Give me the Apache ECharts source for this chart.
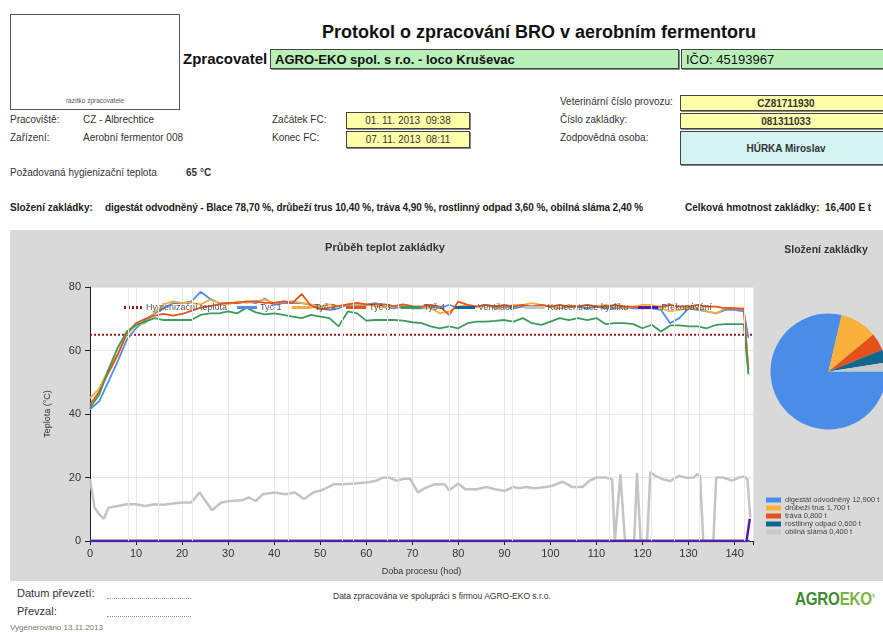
<!DOCTYPE html>
<html>
<head>
<meta charset="utf-8">
<script src="https://cdn.jsdelivr.net/npm/echarts@6/dist/echarts.min.js"></script>
<style>
  body { margin: 0; width: 883px; height: 632px; position: relative; overflow: hidden; background: #fff;
         font-family: "Liberation Sans", Arial, sans-serif; color: #333; }
  .t { position: absolute; white-space: nowrap; line-height: 1; font-size: 10px; }
  .b { font-weight: bold; }
  .box { position: absolute; box-sizing: border-box; border: 1px solid #444; box-shadow: 1px 1px 0 #888;
         display: flex; align-items: center; white-space: nowrap; font-size: 10px; }
  .yel { background: #ffffaa; justify-content: center; }
  .grn { background: #b8f0b8; font-size: 13px; color: #111; padding-left: 4px; }
  .dots { position: absolute; left: 107px; width: 84px; border-bottom: 1px dotted #999; }
  #chart { position: absolute; left: 10px; top: 230px; width: 873px; height: 351px; }
</style>
</head>
<body>
<!-- header -->
<div class="box" style="left:10px;top:14px;width:170px;height:96px;box-shadow:none;border-color:#555;"></div>
<div class="t" style="left:10px;top:98px;width:170px;text-align:center;font-size:6.5px;color:#555;">razítko zpracovatele</div>
<div class="t b" style="left:322px;top:23px;font-size:18px;color:#111;">Protokol o zpracování BRO v aerobním fermentoru</div>
<div class="t b" style="left:183px;top:51px;font-size:15px;color:#111;">Zpracovatel</div>
<div class="box grn b" style="left:270px;top:49px;width:409px;height:20px;">AGRO-EKO spol. s r.o. - loco Kruševac</div>
<div class="box grn" style="left:681px;top:49px;width:215px;height:20px;">IČO: 45193967</div>

<div class="t" style="left:10px;top:115px;">Pracoviště:</div>
<div class="t" style="left:83px;top:115px;">CZ - Albrechtice</div>
<div class="t" style="left:10px;top:133px;">Zařízení:</div>
<div class="t" style="left:83px;top:133px;">Aerobní fermentor 008</div>
<div class="t" style="left:272px;top:115px;">Začátek FC:</div>
<div class="t" style="left:272px;top:133px;">Konec FC:</div>
<div class="box yel" style="left:346px;top:112px;width:124px;height:17px;">01. 11. 2013&nbsp;&nbsp;09:38</div>
<div class="box yel" style="left:346px;top:131px;width:124px;height:17px;">07. 11. 2013&nbsp;&nbsp;08:11</div>

<div class="t" style="left:560px;top:97px;">Veterinární číslo provozu:</div>
<div class="t" style="left:560px;top:115px;">Číslo zakládky:</div>
<div class="t" style="left:560px;top:133px;">Zodpovědná osoba:</div>
<div class="box yel b" style="left:680px;top:95px;width:212px;height:16px;">CZ81711930</div>
<div class="box yel b" style="left:680px;top:113px;width:212px;height:16px;">081311033</div>
<div class="box b" style="left:680px;top:131px;width:212px;height:34px;background:#d4f4f4;justify-content:center;">HÚRKA Miroslav</div>

<div class="t" style="left:10px;top:168px;">Požadovaná hygienizační teplota</div>
<div class="t b" style="left:186px;top:168px;">65 °C</div>

<div class="t b" style="left:10px;top:203px;color:#222;">Složení zakládky:</div>
<div class="t b" style="left:105px;top:203px;color:#222;letter-spacing:-0.1px;">digestát odvodněný - Blace 78,70 %, drůbeží trus 10,40 %, tráva 4,90 %, rostlinný odpad 3,60 %, obilná sláma 2,40 %</div>
<div class="t b" style="left:685px;top:203px;color:#222;">Celková hmotnost zakládky:&nbsp;&nbsp;16,400 E t</div>

<div id="chart"></div>

<!-- footer -->
<div class="t" style="left:17px;top:588px;font-size:11px;">Datum převzetí:</div>
<div class="dots" style="top:598px;"></div>
<div class="t" style="left:17px;top:606px;font-size:11px;">Převzal:</div>
<div class="dots" style="top:616px;"></div>
<div class="t" style="left:10px;top:624px;font-size:8px;color:#777;">Vygenerováno 13.11.2013</div>
<div class="t" style="left:333px;top:592px;font-size:8.5px;">Data zpracována ve spolupráci s firmou AGRO-EKO s.r.o.</div>
<div class="t b" style="left:795px;top:589px;font-size:19px;transform:scaleX(0.8);transform-origin:0 0;letter-spacing:-0.3px;">
  <span style="color:#3f8a30;">AGRO</span><span style="color:#7cb342;">EKO</span><sup style="font-size:5px;color:#7cb342;">®</sup>
</div>

<script>
// time axis of the temperature probes (hours)
const hours = [0, 2, 4, 6, 8, 10, 12, 14, 16, 18, 20, 22, 24, 26, 28, 30, 32, 34, 36, 38, 40, 42, 44, 46, 48,
  50, 52, 54, 56, 58, 60, 62, 64, 66, 68, 70, 72, 74, 76, 78, 80, 82, 84, 86, 88, 90, 92, 94, 96, 98,
  100, 102, 104, 106, 108, 110, 112, 114, 116, 118, 120, 122, 124, 126, 128, 130, 132, 134, 136, 138, 140, 142, 143];

const tyc1 = [41.5, 44, 50.2, 56.5, 63.4, 67, 69.6, 71.7, 73.3, 74.9, 74.9, 75.4, 78.5, 76.4, 74.9, 74.9, 74.9, 75.4,
  74.9, 76.4, 74.4, 74.9, 74.9, 74.9, 74.4, 73.3, 72.8, 73.3, 74.4, 74.4, 74.4, 74.9, 73.8, 73.3, 73.8, 73.3,
  73.3, 73.8, 73.3, 74.4, 73.3, 73.8, 73.8, 74.4, 73.8, 73.8, 73.3, 73.8, 73.8, 74.4, 73.8, 73.3, 73.8, 73.8,
  73.3, 73.8, 73.3, 73.3, 73.8, 73.3, 73.3, 73.3, 72.8, 68.6, 70.2, 73.3, 72.8, 72.3, 71.7, 72.8, 72.8, 72.3, 64];

const tyc2 = [45, 48, 54, 59, 65, 68, 68.6, 72, 74.5, 75.5, 75, 75, 74.5, 76, 75, 74.5, 75.5, 75,
  75.5, 76, 75, 75.5, 75.5, 75, 74.5, 74, 74.5, 74, 74.5, 74.5, 74.5, 74, 73.5, 74, 74, 73.5,
  73.8, 73.3, 71.7, 72.3, 73.8, 74.4, 73.8, 74.4, 73.3, 73.8, 74.4, 74.4, 74.9, 74.4, 73.8, 73.3, 74.4, 73.8,
  74.4, 73.8, 74.4, 73.8, 73.3, 73.8, 74.4, 74.4, 73.3, 72.3, 72.8, 73.3, 73.3, 72.3, 71.7, 73.3, 73.3, 73.3, 54];

const tyc3 = [43, 47, 53, 58.5, 65.5, 68.6, 70, 71, 71.5, 71, 71.5, 72.5, 73.5, 74, 74.5, 75, 75, 75.5,
  75.5, 75, 75, 75.5, 75, 77.8, 74, 73, 73.5, 74, 74.5, 75, 74.5, 74.5, 74.5, 74, 74.5, 74,
  73.8, 74.4, 73.8, 71.2, 75.4, 74.4, 73.8, 74.4, 73.8, 74.4, 73.8, 74.4, 73.8, 74.4, 73.8, 74.4, 73.8, 73.8,
  74.4, 73.8, 73.8, 74.4, 73.8, 73.8, 73.3, 73.8, 73.8, 74.4, 73.8, 73.8, 74.4, 73.8, 73.8, 73.3, 73.3, 73, 54];

const tyc4 = [42, 46.1, 54, 60.8, 66, 68.1, 69.1, 70.2, 69.6, 69.6, 69.6, 69.6, 71.2, 71.7, 71.7, 72.3, 71.7, 73.5,
  72, 71.4, 71.7, 71.2, 70.7, 70.2, 71.2, 70.7, 70.2, 67.6, 72.3, 71.7, 69.4, 69.6, 69.6, 69.6, 69.4, 68.9,
  68.6, 67.6, 67.0, 67.6, 67.0, 68.6, 69.1, 69.1, 69.3, 69.6, 69.1, 70.2, 68.6, 68.1, 69.1, 70.2, 69.6, 70.2,
  69.6, 70.2, 68.3, 68.6, 68.6, 68.3, 67.0, 68.1, 66.0, 67.9, 67.9, 67.6, 67.6, 67.0, 68.1, 68.3, 68.3, 68.3, 52.5];

// oxygen concentration has its own sampling
const o2Hours = [0, 1, 2, 3, 4, 6, 8, 10, 12, 14, 16, 18, 20, 22, 23.8, 26.5, 28.5, 30.5, 33, 34.5, 36, 37.5, 40, 42.5,
  44.5, 46.5, 48.5, 50, 51.5, 53, 55, 57.5, 60, 62, 63.5, 65, 66.5, 68, 69.5, 71.2, 73, 75, 77, 78, 80, 81.5, 84, 86,
  88, 90, 92, 93.3, 94.7, 96.5, 99, 100.5, 102.6, 104.8, 107, 108.4, 110, 112, 113.4, 114, 115.2, 116.2, 118.2, 118.8,
  119.6, 121, 121.7, 122.8, 124.5, 126, 127.9, 129.5, 131, 131.9, 132.5, 133.2, 135.4, 136, 137.5, 139.5, 141, 142.1, 142.8, 143.4];
const o2Values = [19.5, 10.5, 8.4, 7, 10.5, 11, 11.6, 11.6, 11, 11.6, 11.4, 11.8, 12.1, 12.1, 15.3, 9.7, 12.1, 12.6, 12.8, 13.7,
  12.6, 14.7, 15.3, 14.7, 15.3, 13.2, 15.3, 15.8, 16.8, 17.9, 17.9, 18.1, 18.4, 18.9, 19.9, 20, 19, 19.5, 19.7, 15.3,
  16.8, 17.9, 17.9, 16, 18.1, 16.3, 16.3, 17, 16.3, 15.8, 17, 16.6, 17, 16.6, 17, 17.4, 18.7, 17, 17, 18.9, 20, 20, 19.4, 0,
  21, 0, 0, 21.5, 0, 0, 21.7, 20.5, 19.4, 18.9, 20.5, 19.9, 19.9, 21, 20.5, 0, 0, 20, 20, 19, 20, 20.3, 19.4, 7.4];

const ventHours = [0, 143.3];
const ventValues = [0, 0];
const turnHours = [0, 142.6, 143.3];
const turnValues = [0, 0, 7];

const hygTemp = 65;
const xMax = 144;
// faint vertical marks seen in the plot
const eventHours = [8.2, 14.9, 22.3, 43.1, 54.8, 57.1, 64.5, 66.9, 78.1, 91.8, 105.6, 112.8, 121.9, 126.8, 132.3, 142];

const seriesNames = ['Hygienizační teplota', 'Tyč 1', 'Tyč 2', 'Tyč 3', 'Tyč 4', 'Ventilace', 'Koncentrace kyslíku', 'Překopávání'];

const materials = ['digestát odvodněný', 'drůbeží trus', 'tráva', 'rostlinný odpad', 'obilná sláma'];
const tonnes = [12.9, 1.7, 0.8, 0.6, 0.4];
const pieColors = ['#4a8de8', '#f9b13b', '#e5501b', '#10688f', '#c8c8c8'];

const FONT = '"Liberation Sans", Arial, sans-serif';
const pair = (xs, ys) => xs.map((x, i) => [x, ys[i]]);
const pieNames = materials.map((m, i) => m + ' ' + tonnes[i].toFixed(3).replace('.', ',') + ' t');

// legend swatches: a flat bar, or a dotted one for the threshold line
const barIcon = 'path://M0,0H20V3H0Z';
const dotIcon = 'path://M0,0H2V3H0ZM4,0H6V3H4ZM8,0H10V3H8ZM12,0H14V3H12ZM16,0H18V3H16Z';

const line = (name, data, color, width) => ({
  name, type: 'line', data, color, symbol: 'none', silent: true,
  lineStyle: { color, width: width || 1.8 }
});

const chart = echarts.init(document.getElementById('chart'));
chart.setOption({
  animation: false,
  backgroundColor: '#d9d9d9',
  textStyle: { fontFamily: FONT },
  graphic: [
    { type: 'text', x: 375, y: 18, style: { text: 'Průběh teplot zakládky', align: 'center', verticalAlign: 'middle',
      fontSize: 11, fontWeight: 'bold', fontFamily: FONT, fill: '#333' } },
    { type: 'text', x: 816, y: 20, style: { text: 'Složení zakládky', align: 'center', verticalAlign: 'middle',
      fontSize: 10.5, fontWeight: 'bold', fontFamily: FONT, fill: '#333' } }
  ],
  grid: { left: 80, right: 130, top: 57, bottom: 39, show: true, backgroundColor: '#fff', borderWidth: 0 },
  legend: [
    {
      data: seriesNames.map((n, i) => ({ name: n, icon: i === 0 ? dotIcon : barIcon })),
      left: 109, top: 68, itemWidth: 20, itemHeight: 3, itemGap: 10,
      textStyle: { fontSize: 9, color: '#555', padding: [0, 0, 0, -2] }
    },
    {
      data: pieNames, orient: 'vertical', left: 751, top: 261,
      icon: 'rect', itemWidth: 15, itemHeight: 5, itemGap: 0,
      textStyle: { fontSize: 7.5, color: '#444', padding: [0, 0, 0, -1] }
    }
  ],
  xAxis: {
    type: 'value', min: 0, max: xMax, interval: 10,
    name: 'Doba procesu (hod)', nameLocation: 'middle', nameGap: 26,
    nameTextStyle: { fontSize: 9, color: '#333' },
    axisLine: { lineStyle: { color: '#222' } },
    axisTick: { length: 4, lineStyle: { color: '#222' } },
    axisLabel: { fontSize: 11, color: '#333', margin: 7,
      formatter: v => (v % 10 === 0 ? String(v) : '') },
    splitLine: { show: true, lineStyle: { color: '#e6e6e6' } }
  },
  yAxis: {
    type: 'value', min: 0, max: 80, interval: 20,
    name: 'Teplota (°C)', nameLocation: 'middle', nameGap: 38, nameRotate: 90,
    nameTextStyle: { fontSize: 9, color: '#333' },
    axisLine: { show: true, lineStyle: { color: '#222' } },
    axisTick: { show: true, length: 5, lineStyle: { color: '#222' } },
    axisLabel: { fontSize: 11, color: '#333', margin: 9 },
    splitLine: { lineStyle: { color: '#e6e6e6' } }
  },
  series: [
    {
      name: 'Hygienizační teplota', type: 'line', symbol: 'none', silent: true, color: '#8e1b1b',
      data: [[0, hygTemp], [xMax, hygTemp]],
      lineStyle: { color: '#8e1b1b', width: 2, type: [2, 2] },
      markLine: {
        silent: true, symbol: ['none', 'none'], label: { show: false },
        lineStyle: { color: '#e8e8e8', type: 'solid', width: 1 },
        data: eventHours.map(h => ({ xAxis: h }))
      }
    },
    line('Koncentrace kyslíku', pair(o2Hours, o2Values), '#c4c4c4', 2.5),
    line('Tyč 1', pair(hours, tyc1), '#4f8fe6'),
    line('Tyč 2', pair(hours, tyc2), '#f6ad3c'),
    line('Tyč 3', pair(hours, tyc3), '#e4541b'),
    line('Tyč 4', pair(hours, tyc4), '#3a9b5c'),
    line('Ventilace', pair(ventHours, ventValues), '#17649a', 2.5),
    line('Překopávání', pair(turnHours, turnValues), '#5a1aa8', 2.5),
    {
      type: 'pie', center: [818.5, 141.5], radius: 58, startAngle: 0, clockwise: true,
      label: { show: false }, labelLine: { show: false }, silent: true,
      data: pieNames.map((n, i) => ({ name: n, value: tonnes[i], itemStyle: { color: pieColors[i] } }))
    }
  ]
});
</script>
</body>
</html>
